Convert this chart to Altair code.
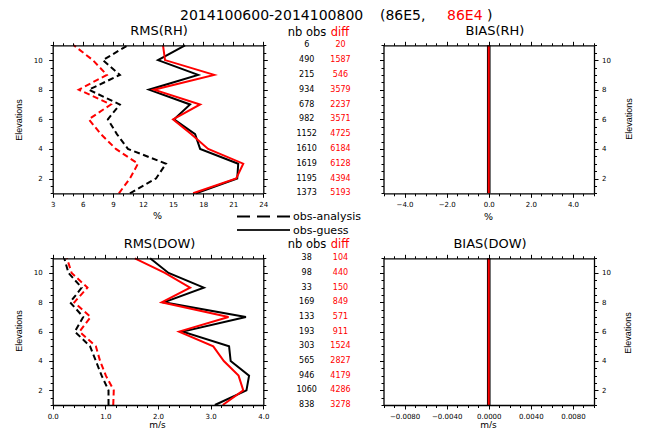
import altair as alt
import pandas as pd

W, H = 645, 428
SANS = "DejaVu Sans"

# ---------------- data (listed from elevation 1 up to 11) ----------------
elev = [1, 2, 3, 4, 5, 6, 7, 8, 9, 10, 11]

rh_ana_86E5 = [10.7, 13.3, 14.3, 10.5, 9.4, 8.5, 9.7, 6.6, 9.7, 8.0, 10.5]
rh_ana_86E4 = [9.6, 10.7, 11.5, 9.3, 7.8, 6.6, 8.8, 5.6, 8.4, 7.0, 5.1]
rh_gue_86E5 = [17.3, 21.4, 21.5, 17.7, 17.2, 15.1, 16.7, 12.6, 17.5, 13.5, 16.2]
rh_gue_86E4 = [17.0, 21.3, 22.0, 18.5, 16.8, 15.0, 17.7, 13.1, 19.1, 14.2, 14.0]

dow_ana_86E5 = [1.06, 1.06, 0.93, 0.82, 0.71, 0.42, 0.58, 0.33, 0.55, 0.30, 0.22]
dow_ana_86E4 = [1.15, 1.16, 1.01, 0.90, 0.82, 0.51, 0.72, 0.41, 0.66, 0.36, 0.27]
dow_gue_86E5 = [3.08, 3.68, 3.73, 3.38, 3.35, 2.47, 3.67, 2.11, 2.87, 2.20, 1.85]
dow_gue_86E4 = [3.23, 3.62, 3.53, 3.25, 3.05, 2.40, 3.34, 2.07, 2.61, 2.13, 1.56]

bias_rh = [0, 0, 0, 0, 0, 0, 0, 0, 0, 0, 0]
bias_dow = [0, 0, 0, 0, 0, 0, 0, 0, 0, 0, 0]

nobs_rh = [1373, 1195, 1619, 1610, 1152, 982, 678, 934, 215, 490, 6]
diff_rh = [5193, 4394, 6128, 6184, 4725, 3571, 2237, 3579, 546, 1587, 20]
nobs_dow = [838, 1060, 946, 565, 303, 193, 133, 169, 33, 98, 38]
diff_dow = [3278, 4286, 4179, 2827, 1524, 911, 571, 849, 150, 440, 104]

# tick values
x_ticks_rms_rh = [3, 6, 9, 12, 15, 18, 21, 24]
x_minor_rms_rh = [v for v in range(3, 25)]
x_ticks_rms_dow = [0.0, 1.0, 2.0, 3.0, 4.0]
x_minor_rms_dow = [i * 0.2 for i in range(0, 21)]
x_ticks_bias_rh = [-4.0, -2.0, 0.0, 2.0, 4.0]
x_minor_bias_rh = [-5 + i * 0.5 for i in range(0, 21)]
x_ticks_bias_dow = [-0.008, -0.004, 0.0, 0.004, 0.008]
x_minor_bias_dow = [-0.01 + i * 0.001 for i in range(0, 21)]
y_ticks = [2, 4, 6, 8, 10]
y_minor = [1 + i * 0.5 for i in range(0, 21)]

# ---------------- layout (pixel ranges of the four frames) ----------------
PX_L = [52.7, 263.3]
PX_R = [383.5, 594.0]
PY_T = [193.3, 45.3]
PY_B = [405.0, 258.3]
YDOM = [1, 11]


def scl(dom, rng):
    return alt.Scale(domain=dom, range=rng, nice=False, zero=False)


def mk_axis(orient, offset, values, size, labels, fmt=None, pad=3, domain=True):
    kw = dict(orient=orient, offset=offset, values=values, tickSize=size,
              tickColor="black", tickWidth=1, domain=domain, domainColor="black",
              domainWidth=1.3, grid=False, labels=labels, title=None, zindex=1)
    if labels:
        kw.update(format=fmt, labelFont=SANS, labelFontSize=7, labelColor="black",
                  labelPadding=pad, labelFlush=False, labelOverlap=False)
    return alt.Axis(**kw)


def axis_layers(xdom, xr, yr, xmaj, xmin, xfmt, ylab_side):
    d = pd.DataFrame({"ax": xdom, "ay": YDOM})
    off_b = yr[0] - H
    off_t = -yr[1]
    off_l = -xr[0]
    off_r = xr[1] - W
    specs = [
        (mk_axis("bottom", off_b, xmaj, 4, True, xfmt, pad=3),
         mk_axis("left", off_l, y_ticks, 4, ylab_side == "left", "d", pad=6.5)),
        (mk_axis("top", off_t, xmaj, 4, False),
         mk_axis("right", off_r, y_ticks, 4, ylab_side == "right", "d", pad=3.5)),
        (mk_axis("bottom", off_b, xmin, 2.5, False, domain=False),
         mk_axis("left", off_l, y_minor, 2.5, False, domain=False)),
        (mk_axis("top", off_t, xmin, 2.5, False, domain=False),
         mk_axis("right", off_r, y_minor, 2.5, False, domain=False)),
    ]
    out = []
    for xa, ya in specs:
        out.append(alt.Chart(d).mark_point(opacity=0).encode(
            x=alt.X("ax:Q", scale=scl(xdom, xr), axis=xa),
            y=alt.Y("ay:Q", scale=scl(YDOM, yr), axis=ya),
        ))
    return out


def line_layer(vals, color, xdom, xr, yr, dash=None, width=2.0):
    d = pd.DataFrame({"elev": elev, "val": vals})
    mk = dict(color=color, strokeWidth=width)
    if dash:
        mk["strokeDash"] = dash
    return alt.Chart(d).mark_line(**mk).encode(
        x=alt.X("val:Q", scale=scl(xdom, xr), axis=None),
        y=alt.Y("elev:Q", scale=scl(YDOM, yr), axis=None),
        order="elev:Q",
    )


def text_layer(txt, x, y, size, color="black", align="center", baseline="alphabetic",
               angle=0, font=SANS):
    d = pd.DataFrame({"t": [txt]})
    mk = dict(font=font, fontSize=size, color=color, align=align, baseline=baseline)
    if angle:
        mk["angle"] = angle
    return alt.Chart(d).mark_text(**mk).encode(
        x=alt.value(x), y=alt.value(y), text="t:N")


def numbers_layer(vals, x, yr, color):
    d = pd.DataFrame({"elev": elev, "n": vals})
    return alt.Chart(d).mark_text(font=SANS, fontSize=8, color=color, align="center",
                                  baseline="middle").encode(
        x=alt.value(x),
        y=alt.Y("elev:Q", scale=scl(YDOM, yr), axis=None),
        text=alt.Text("n:Q", format="d"),
    )


DASH = [6, 3.5]
layers = []

# ---- top-left RMS(RH)
dom = [3, 24]
layers += axis_layers(dom, PX_L, PY_T, x_ticks_rms_rh, x_minor_rms_rh, "d", "left")
layers += [
    line_layer(rh_ana_86E5, "black", dom, PX_L, PY_T, DASH),
    line_layer(rh_ana_86E4, "red", dom, PX_L, PY_T, DASH),
    line_layer(rh_gue_86E5, "black", dom, PX_L, PY_T),
    line_layer(rh_gue_86E4, "red", dom, PX_L, PY_T),
]

# ---- top-right BIAS(RH)
dom = [-5, 5]
layers += axis_layers(dom, PX_R, PY_T, x_ticks_bias_rh, x_minor_bias_rh, ".1f", "right")
layers += [
    line_layer(bias_rh, "black", dom, PX_R, PY_T, width=3.6),
    line_layer(bias_rh, "red", dom, PX_R, PY_T, width=2.0),
]

# ---- bottom-left RMS(DOW)
dom = [0, 4]
layers += axis_layers(dom, PX_L, PY_B, x_ticks_rms_dow, x_minor_rms_dow, ".1f", "left")
layers += [
    line_layer(dow_ana_86E5, "black", dom, PX_L, PY_B, DASH),
    line_layer(dow_ana_86E4, "red", dom, PX_L, PY_B, DASH),
    line_layer(dow_gue_86E5, "black", dom, PX_L, PY_B),
    line_layer(dow_gue_86E4, "red", dom, PX_L, PY_B),
]

# ---- bottom-right BIAS(DOW)
dom = [-0.01, 0.01]
layers += axis_layers(dom, PX_R, PY_B, x_ticks_bias_dow, x_minor_bias_dow, ".4f", "right")
layers += [
    line_layer(bias_dow, "black", dom, PX_R, PY_B, width=3.6),
    line_layer(bias_dow, "red", dom, PX_R, PY_B, width=2.0),
]

# ---- number columns
layers += [
    numbers_layer(nobs_rh, 306.7, PY_T, "black"),
    numbers_layer(diff_rh, 340.5, PY_T, "red"),
    numbers_layer(nobs_dow, 306.7, PY_B, "black"),
    numbers_layer(diff_dow, 340.5, PY_B, "red"),
]

# ---- texts
layers += [
    text_layer("2014100600-2014100800", 180, 19.7, 14, align="left"),
    text_layer("(86E5,", 380, 19.7, 14, align="left"),
    text_layer("86E4", 447, 19.7, 14, color="red", align="left"),
    text_layer(")", 487, 19.7, 14, align="left"),
    text_layer("RMS(RH)", 159, 35, 13),
    text_layer("BIAS(RH)", 495, 35, 13),
    text_layer("RMS(DOW)", 159.5, 247.5, 13),
    text_layer("BIAS(DOW)", 490, 248.3, 13),
    text_layer("nb obs", 307, 36.3, 11.5),
    text_layer("diff", 340, 36.3, 11.5, color="red"),
    text_layer("nb obs", 307, 248, 11.5),
    text_layer("diff", 340, 248, 11.5, color="red"),
    text_layer("%", 157.5, 218.5, 9.5),
    text_layer("%", 488.5, 219.5, 9.5),
    text_layer("m/s", 157.5, 427.5, 9),
    text_layer("m/s", 488.5, 427.5, 9),
    text_layer("Elevations", 18.5, 120, 9, baseline="middle", angle=270, font="Liberation Sans"),
    text_layer("Elevations", 629, 119, 9, baseline="middle", angle=270, font="Liberation Sans"),
    text_layer("Elevations", 18.5, 331, 9, baseline="middle", angle=270, font="Liberation Sans"),
    text_layer("Elevations", 628, 333, 9, baseline="middle", angle=270, font="Liberation Sans"),
]

# ---- legend
leg = pd.DataFrame({"k": ["obs-analysis", "obs-guess"]})
layers += [
    alt.Chart(leg.iloc[[0]]).mark_rule(color="black", strokeWidth=1.8, strokeDash=[13, 7]).encode(
        x=alt.value(237), x2=alt.value(290), y=alt.value(216.5)),
    alt.Chart(leg.iloc[[1]]).mark_rule(color="#222222", strokeWidth=2.2).encode(
        x=alt.value(237), x2=alt.value(290), y=alt.value(230)),
    text_layer("obs-analysis", 293, 216.5, 11, align="left", baseline="middle"),
    text_layer("obs-guess", 293, 230.5, 11, align="left", baseline="middle"),
]

chart = alt.layer(*layers).resolve_scale(
    x="independent", y="independent"
).resolve_axis(
    x="independent", y="independent"
).properties(
    width=W, height=H, autosize=alt.AutoSizeParams(type="none"), padding=0,
    background="white",
).configure_view(strokeWidth=0)

chart.save("out.html", embed_options={"renderer": "svg", "actions": False})
